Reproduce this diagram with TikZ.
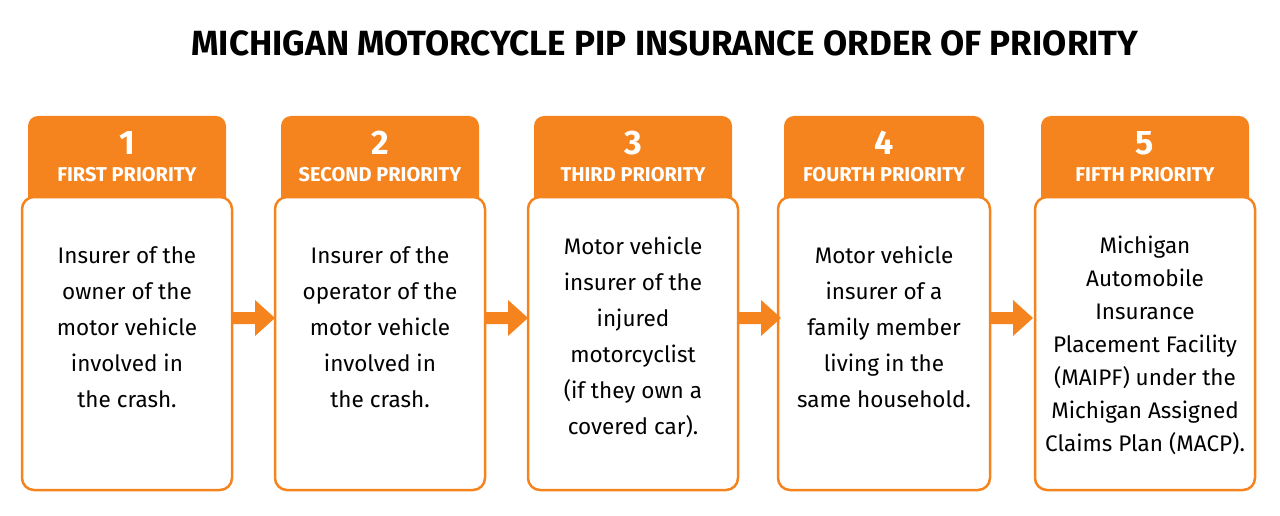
\documentclass[tikz,border=0pt]{standalone}
\usepackage{fontspec}
\setmainfont{Fira Sans}
\definecolor{org}{HTML}{F5841F}
\begin{document}
\begin{tikzpicture}[x=1pt,y=-1pt,
 hdr/.style={fill=org,rounded corners=10pt},
 body/.style={draw=org,line width=2.5pt,fill=white,rounded corners=12pt},
 num/.style={text=white,font=\bfseries\fontsize{34}{34}\selectfont},
 lab/.style={text=white,font=\bfseries\fontsize{20}{20}\selectfont},
 txt/.style={align=center},
 arr/.style={fill=org,draw=none}]
\useasboundingbox (0,0) rectangle (1280,516);
\node[font=\bfseries\fontsize{35}{35}\selectfont] (title) at (665,43) {MICHIGAN MOTORCYCLE PIP INSURANCE ORDER OF PRIORITY};
\foreach \i/\l/\w/\n/\t/\ty/\ls in {
 1/22/210/FIRST PRIORITY/{Insurer of the\\owner of the\\motor vehicle\\involved in\\the crash.}/327/36,
 2/275/210/SECOND PRIORITY/{Insurer of the\\operator of the\\motor vehicle\\involved in\\the crash.}/327/36,
 3/528/210/THIRD PRIORITY/{Motor vehicle\\insurer of the\\injured\\motorcyclist\\(if they own a\\covered car).}/337/36,
 4/778/212/FOURTH PRIORITY/{Motor vehicle\\insurer of a\\family member\\living in the\\same household.}/327/36,
 5/1035/220/FIFTH PRIORITY/{Michigan\\Automobile\\Insurance\\Placement Facility\\(MAIPF) under the\\Michigan Assigned\\Claims Plan (MACP).}/345/33}{
 \fill[hdr] (\l+6,116) rectangle (\l+\w-6,215);
 \draw[body] (\l,197) rectangle (\l+\w,490);
 \node[num] (n\i) at (\l+\w/2,143) {\i};
 \node[lab] (h\i) at (\l+\w/2,175) {\n};
 \node[txt,font=\fontsize{22.5}{\ls}\selectfont] (t\i) at (\l+\w/2,\ty) {\t};
}
\foreach \a in {233,486,739,991}{
 \fill[arr] (\a,312) -- (\a+22,312) -- (\a+22,300) -- (\a+42,318) -- (\a+22,336) -- (\a+22,324) -- (\a,324) -- cycle;
}
\end{tikzpicture}
\end{document}
